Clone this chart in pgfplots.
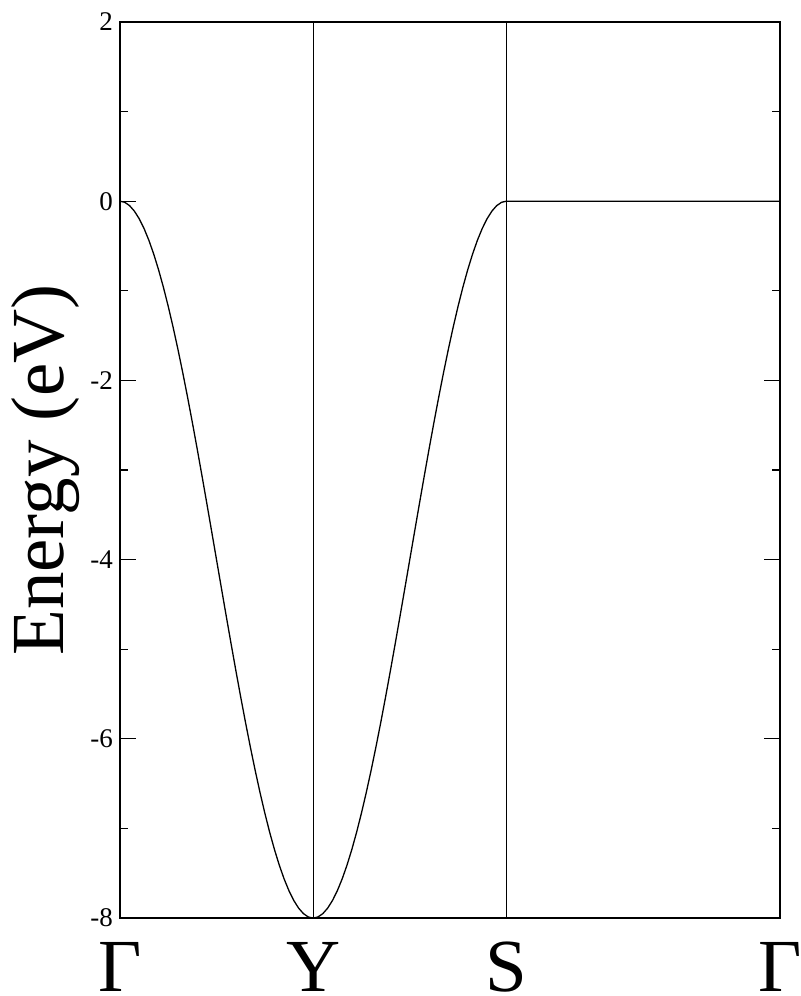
\documentclass[border=0pt]{standalone}
\usepackage{pgfplots}
\pgfplotsset{compat=1.18}
\usepackage{fontspec}
\setmainfont{Liberation Serif}
\begin{document}
\begin{tikzpicture}
\begin{axis}[
  name=ax,
  scale only axis,
  width=330.25pt, height=448.5pt,
  xmin=0, xmax=3.41421, ymin=-8, ymax=2,
  axis line style={line width=1pt},
  xtick={0,1,2,3.41421},
  xticklabels={Γ,Y,S,Γ},
  major x tick style={draw=none},
  xmajorgrids=true,
  major grid style={black, line width=0.5pt},
  ytick={-8,-6,-4,-2,0,2},
  yticklabels={-8,-6,-4,-2,0,2},
  minor ytick={-7,-5,-3,-1,1},
  ytick pos=both,
  tick align=inside,
  major tick length=8pt,
  minor tick length=4pt,
  every tick/.style={black, line width=0.6pt},
  yticklabel style={font=\fontsize{13.5}{16}\selectfont},
  xticklabel style={font=\fontsize{37.5}{40}\selectfont, anchor=base, inner sep=0pt, yshift=-36.5pt},
  ylabel={Energy (eV)},
  ylabel style={at={(axis description cs:-0.0862,0.5)}, anchor=base, rotate=0, font=\fontsize{37.5}{40}\selectfont},
  clip=false,
]
\addplot[black, line width=0.65pt] coordinates {
(0,0) (0.025,-0.01233) (0.05,-0.04925) (0.075,-0.11052) (0.1,-0.19577)
(0.125,-0.30448) (0.15,-0.43597) (0.175,-0.58944) (0.2,-0.76393)
(0.225,-0.95838) (0.25,-1.17157) (0.275,-1.40221) (0.3,-1.64886)
(0.325,-1.91000) (0.35,-2.18404) (0.375,-2.46927) (0.4,-2.76393)
(0.425,-3.06622) (0.45,-3.37426) (0.475,-3.68616) (0.5,-4.0)
(0.525,-4.31384) (0.55,-4.62574) (0.575,-4.93378) (0.6,-5.23607)
(0.625,-5.53073) (0.65,-5.81596) (0.675,-6.09000) (0.7,-6.35114)
(0.725,-6.59779) (0.75,-6.82843) (0.775,-7.04162) (0.8,-7.23607)
(0.825,-7.41056) (0.85,-7.56403) (0.875,-7.69552) (0.9,-7.80423)
(0.925,-7.88948) (0.95,-7.95075) (0.975,-7.98767) (1,-8)
(1.025,-7.98767) (1.05,-7.95075) (1.075,-7.88948) (1.1,-7.80423)
(1.125,-7.69552) (1.15,-7.56403) (1.175,-7.41056) (1.2,-7.23607)
(1.225,-7.04162) (1.25,-6.82843) (1.275,-6.59779) (1.3,-6.35114)
(1.325,-6.09000) (1.35,-5.81596) (1.375,-5.53073) (1.4,-5.23607)
(1.425,-4.93378) (1.45,-4.62574) (1.475,-4.31384) (1.5,-4.0)
(1.525,-3.68616) (1.55,-3.37426) (1.575,-3.06622) (1.6,-2.76393)
(1.625,-2.46927) (1.65,-2.18404) (1.675,-1.91000) (1.7,-1.64886)
(1.725,-1.40221) (1.75,-1.17157) (1.775,-0.95838) (1.8,-0.76393)
(1.825,-0.58944) (1.85,-0.43597) (1.875,-0.30448) (1.9,-0.19577)
(1.925,-0.11052) (1.95,-0.04925) (1.975,-0.01233) (2,0)
(3.41421,0)
};
\end{axis}
\pgfresetboundingbox
\path ([shift={(-60pt,-39pt)}]ax.south west) rectangle ([shift={(10.25pt,11pt)}]ax.north east);
\end{tikzpicture}
\end{document}
